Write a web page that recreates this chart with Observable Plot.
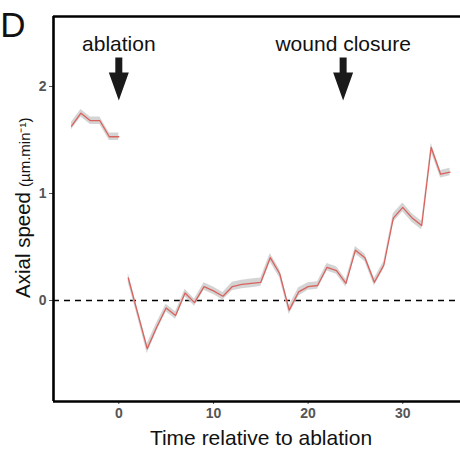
<!DOCTYPE html>
<html><head><meta charset="utf-8">
<script src="https://cdn.jsdelivr.net/npm/d3@7"></script>
<script src="https://cdn.jsdelivr.net/npm/@observablehq/plot@0.6"></script>
<style>
html,body{margin:0;padding:0;background:#fff;}
svg{font-family:"Liberation Sans",Arial,sans-serif;}
</style></head>
<body><div id="chart"></div>
<script>
const preTime = [-5, -4, -3, -2, -1, 0];
const preSpeed = [1.63, 1.75, 1.68, 1.68, 1.53, 1.53];
const preSE = [0.035, 0.035, 0.035, 0.035, 0.035, 0.035];
const postTime = [1,2,3,4,5,6,7,8,9,10,11,12,13,14,15,16,17,18,19,20,21,22,23,24,25,26,27,28,29,30,31,32,33,34,35];
const postSpeed = [0.21,-0.12,-0.45,-0.25,-0.07,-0.14,0.07,-0.02,0.13,0.09,0.04,0.13,0.15,0.16,0.17,0.40,0.25,-0.09,0.08,0.13,0.14,0.31,0.28,0.16,0.47,0.40,0.17,0.33,0.77,0.87,0.77,0.70,1.43,1.18,1.20];
const postSE = [0.045,0.04,0.045,0.04,0.035,0.035,0.035,0.035,0.035,0.035,0.035,0.04,0.04,0.04,0.04,0.04,0.04,0.04,0.04,0.035,0.035,0.035,0.035,0.035,0.035,0.035,0.035,0.035,0.04,0.04,0.04,0.04,0.04,0.035,0.035];
const xTicks = [0, 10, 20, 30];
const yTicks = [0, 1, 2];
const xDomain = [-6.9, 36.1];
const yDomain = [-0.944, 2.654];
const events = [{t: 0, label: "ablation"}, {t: 23.7, label: "wound closure"}];

const rows = [
  ...preTime.map((t, i) => ({t, v: preSpeed[i], se: preSE[i], seg: "pre"})),
  ...postTime.map((t, i) => ({t, v: postSpeed[i], se: postSE[i], seg: "post"}))
];

const blockArrow = {
  draw(context, l) {
    const sw = 3.5, hw = 10, hl = 28;
    context.moveTo(-sw, 0);
    context.lineTo(-sw, -(l - hl));
    context.lineTo(-hw, -(l - hl));
    context.lineTo(0, -l);
    context.lineTo(hw, -(l - hl));
    context.lineTo(sw, -(l - hl));
    context.lineTo(sw, 0);
    context.closePath();
  }
};

const chart = Plot.plot({
  width: 460, height: 454,
  marginLeft: 53, marginRight: 0, marginTop: 16, marginBottom: 53,
  style: {fontFamily: '"Liberation Sans", Arial, sans-serif', background: "#fff"},
  x: {domain: xDomain, ticks: xTicks, label: null},
  y: {domain: yDomain, ticks: yTicks, label: null},
  marks: [
    Plot.ruleY([0], {stroke: "#000", strokeWidth: 1.3, strokeDasharray: "6,5"}),
    Plot.areaY(rows, {x: "t", y1: d => d.v - d.se, y2: d => d.v + d.se, z: "seg", fill: "#cfcfcf", fillOpacity: 0.9}),
    Plot.lineY(rows, {x: "t", y: "v", z: "seg", stroke: "#d9625d", strokeWidth: 1.3}),
    Plot.axisY({ticks: yTicks, tickFormat: d3.format("d"), tickSize: 4, tickPadding: 3, fontSize: 14, fontWeight: "bold", fill: "#555", stroke: "#555", label: null}),
    Plot.axisX({ticks: xTicks, tickFormat: d3.format("d"), tickSize: 3, tickPadding: 4, fontSize: 14, fontWeight: "bold", fill: "#555", stroke: "#555", label: null}),
    Plot.ruleX([xDomain[0]], {stroke: "#000", strokeWidth: 2.6}),
    Plot.ruleY([yDomain[0]], {stroke: "#000", strokeWidth: 2.6}),
    Plot.ruleY([yDomain[1]], {stroke: "#000", strokeWidth: 2.6}),
    Plot.text(events, {x: "t", text: "label", frameAnchor: "top", lineAnchor: "top", dy: 20, fontSize: 21, fill: "#111"}),
    Plot.vector(events, {x: "t", y: 2.27, length: 43, rotate: 180, anchor: "start", shape: blockArrow, fill: "#1a1a1a", stroke: "none"})
  ]
});

const svg = d3.select(chart);
svg.append("text").attr("x", 13).attr("y", 37).attr("font-size", 35).attr("fill", "#111").text("D");
svg.append("text").attr("x", 261).attr("y", 445).attr("text-anchor", "middle").attr("font-size", 21).attr("fill", "#111").text("Time relative to ablation");
const yl = svg.append("g").attr("transform", "translate(30,192) rotate(-90)");
yl.append("text").attr("text-anchor", "end").attr("font-size", 20.5).attr("fill", "#111").text("Axial speed");
yl.append("text").attr("x", 5).attr("text-anchor", "start").attr("font-size", 15).attr("fill", "#111").text("(µm.min⁻¹)");

document.getElementById("chart").appendChild(chart);
</script></body></html>
